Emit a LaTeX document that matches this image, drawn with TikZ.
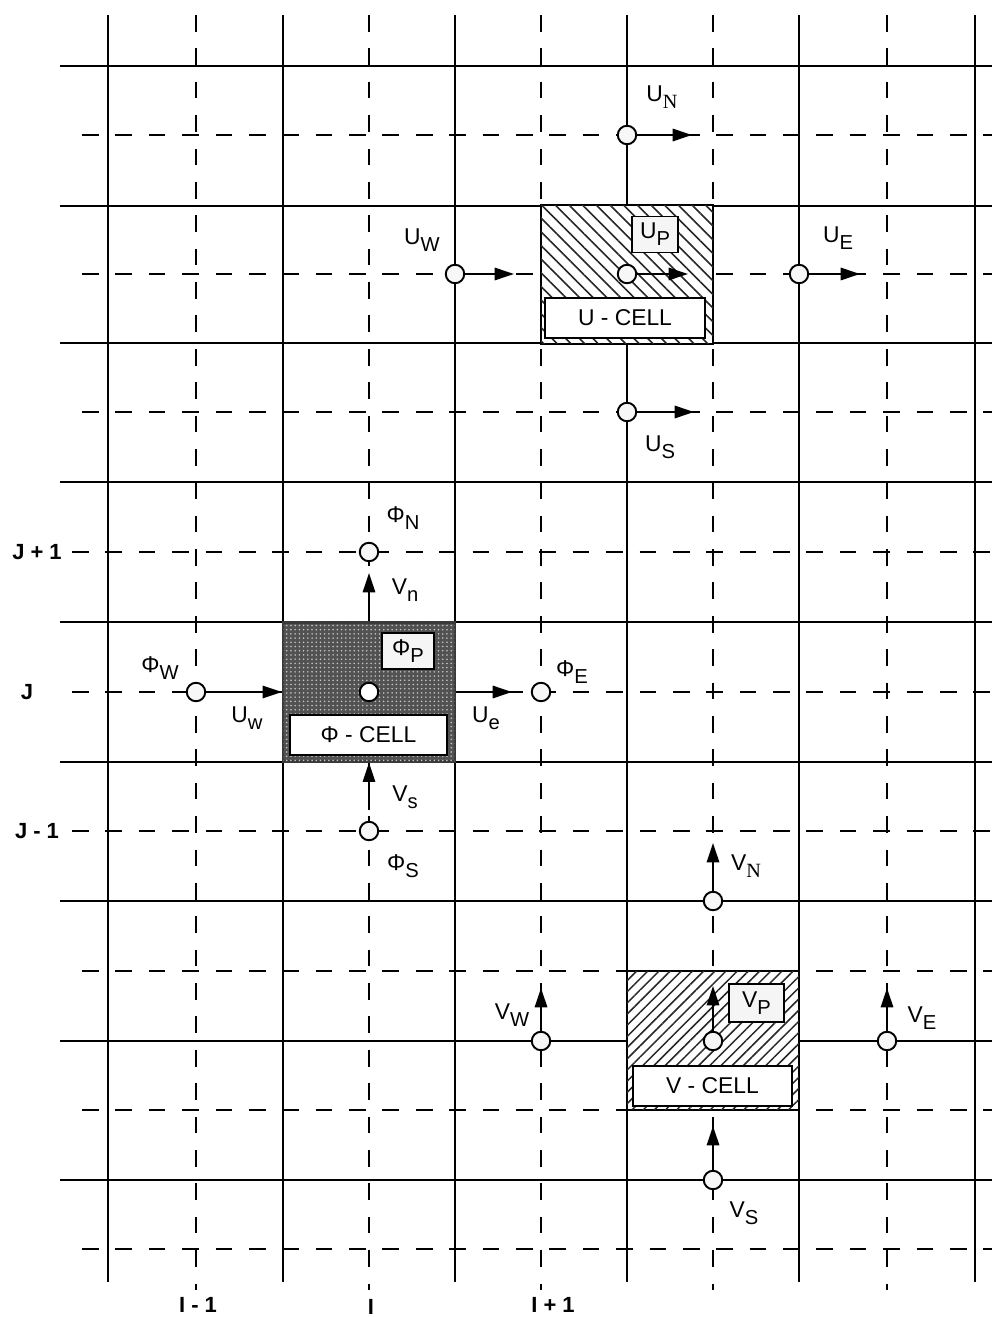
\documentclass[tikz,border=0pt]{standalone}
\usepackage{fontspec}
\setmainfont{Liberation Sans}
\newfontfamily\serifn{Liberation Serif}
\usepackage{tikz}
\usetikzlibrary{positioning,arrows.meta,patterns.meta}

\newcommand{\lowsub}[1]{\raisebox{-0.6ex}{\fontsize{11.5}{12}\selectfont #1}}

\begin{document}
\begin{tikzpicture}[
    x=0.02cm, y=-0.02cm,
    font=\fontsize{13}{14}\selectfont,
    grd/.style={line width=1.25pt},
    dsh/.style={line width=1.25pt, dash pattern=on 9.5pt off 9.5pt},
    pt/.style={circle, draw, line width=1.1pt, fill=gray!6, minimum size=0.37cm, inner sep=0pt},
    vec/.style={line width=1.25pt, -{Triangle[length=11pt,width=7pt]}},
    lb/.style={inner sep=1pt},
    idx/.style={font=\fontsize{12.5}{13}\selectfont\bfseries},
    cell/.style={draw, line width=1.25pt, inner sep=0pt, minimum width=3.44cm, minimum height=2.78cm},
    tag/.style={draw, line width=1.1pt, fill=white, inner sep=0pt, minimum height=0.8cm},
    ptag/.style={draw, line width=1.1pt, fill=gray!8, inner sep=0pt, minimum height=0.72cm},
]
    \useasboundingbox (0,0) rectangle (992,1317);

    % grid
    \foreach \x in {108,283,455,627,799,975} \draw[grd] (\x,15) -- (\x,1282);
    \foreach \x in {196,369,541,713,887} \draw[dsh] (\x,15) -- (\x,1290);
    \foreach \y in {66,206,343,482,622,762,901,1041,1180} \draw[grd] (60,\y) -- (992,\y);
    \foreach \y in {135,274,412,971,1110,1249} \draw[dsh] (82,\y) -- (992,\y);
    \foreach \y in {552,692,831} \draw[dsh] (72,\y) -- (992,\y);

    % cells
    \node[cell, fill=white, postaction={pattern={Lines[angle=-45,distance=5.5pt,line width=0.9pt]}, pattern color=black!85}] (ucell) at (627,274.5) {};
    \node[cell, draw=gray!45!black, fill=black!68, postaction={pattern={Dots[distance=2.4pt,radius=0.5pt]}, pattern color=gray!45}] (phcell) at (369,692) {};
    \node[cell, fill=white, postaction={pattern={Lines[angle=45,distance=4.5pt,line width=0.85pt]}, pattern color=black!85}] (vcell) at (713,1040.5) {};

    \node[tag, minimum width=3.2cm] (utag) at (625,318) {U - CELL};
    \node[tag, minimum width=3.14cm] (phtag) at (368.5,735) {Φ - CELL};
    \node[tag, minimum width=3.18cm] (vtag) at (712.5,1086) {V - CELL};
    \node[ptag, minimum width=0.92cm] (uptag) at (655,234.5) {U\lowsub{P}};
    \node[ptag, minimum width=1.04cm] (phptag) at (408,651) {Φ\lowsub{P}};
    \node[ptag, minimum width=1.1cm, minimum height=0.76cm] (vptag) at (756.5,1003) {V\lowsub{P}};

    % u points
    \node[pt] (uN) at (627,135) {};
    \node[pt] (uW) at (455,274) {};
    \node[pt] (uP) at (627,274) {};
    \node[pt] (uE) at (799,274) {};
    \node[pt] (uS) at (627,412) {};
    \coordinate (uNa) at (692,135);
    \coordinate (uWa) at (514,274);
    \coordinate (uPa) at (688,274);
    \coordinate (uEa) at (860,274);
    \coordinate (uSa) at (694,412);
    \draw[vec] (uN) -- (uNa);
    \draw[vec] (uW) -- (uWa);
    \draw[vec] (uP) -- (uPa);
    \draw[vec] (uE) -- (uEa);
    \draw[vec] (uS) -- (uSa);

    % phi points
    \node[pt] (phW) at (196,692) {};
    \node[pt, fill=white] (phP) at (369,692) {};
    \node[pt] (phE) at (541,692) {};
    \node[pt] (phN) at (369,552) {};
    \node[pt] (phS) at (369,831) {};
    \coordinate (ue) at (512,692);
    \coordinate (vn) at (369,573);
    \coordinate (vs) at (369,810);
    \draw[vec] (phW) -- (phcell.west);
    \draw[vec] (phcell.east) -- (ue);
    \draw[vec] (phcell.north) -- (vn);
    \draw[vec] (vs) -- (phcell.south);

    % v points
    \node[pt] (vN) at (713,901) {};
    \node[pt] (vP) at (713,1041) {};
    \node[pt] (vS) at (713,1180) {};
    \node[pt] (vW) at (541,1041) {};
    \node[pt] (vE) at (887,1041) {};
    \coordinate (vNa) at (713,843);
    \coordinate (vPa) at (713,986);
    \coordinate (vSa) at (713,1126);
    \coordinate (vWa) at (541,988);
    \coordinate (vEa) at (887,988);
    \draw[vec] (vN) -- (vNa);
    \draw[vec] (vP) -- (vPa);
    \draw[vec] (vS) -- (vSa);
    \draw[vec] (vW) -- (vWa);
    \draw[vec] (vE) -- (vEa);

    % labels
    \node[lb] (lUN) at (662,97) {U\lowsub{\serifn N}};
    \node[lb] (lUW) at (422,240) {U\lowsub{W}};
    \node[lb] (lUE) at (838,238) {U\lowsub{E}};
    \node[lb] (lUS) at (660,447) {U\lowsub{S}};
    \node[lb] (lPN) at (403,518) {Φ\lowsub{N}};
    \node[lb] (lVn) at (405,590) {V\lowsub{n}};
    \node[lb] (lPW) at (160,668) {Φ\lowsub{W}};
    \node[lb] (lUw) at (247,718) {U\lowsub{w}};
    \node[lb] (lUe) at (486,718) {U\lowsub{e}};
    \node[lb] (lPE) at (572,672) {Φ\lowsub{E}};
    \node[lb] (lVs) at (405,797) {V\lowsub{s}};
    \node[lb] (lPS) at (403,866) {Φ\lowsub{S}};
    \node[lb] (lVN) at (746,866) {V\lowsub{\serifn N}};
    \node[lb] (lVW) at (512,1015) {V\lowsub{W}};
    \node[lb] (lVE) at (922,1018) {V\lowsub{E}};
    \node[lb] (lVS) at (744,1213) {V\lowsub{S}};

    \node[idx] (jp) at (37,552) {J + 1};
    \node[idx] (j) at (27,692) {J};
    \node[idx] (jm) at (37,831) {J - 1};
    \node[idx] (im) at (198,1305) {I - 1};
    \node[idx] (i) at (371,1307) {I};
    \node[idx] (ip) at (553,1305) {I + 1};
\end{tikzpicture}
\end{document}
